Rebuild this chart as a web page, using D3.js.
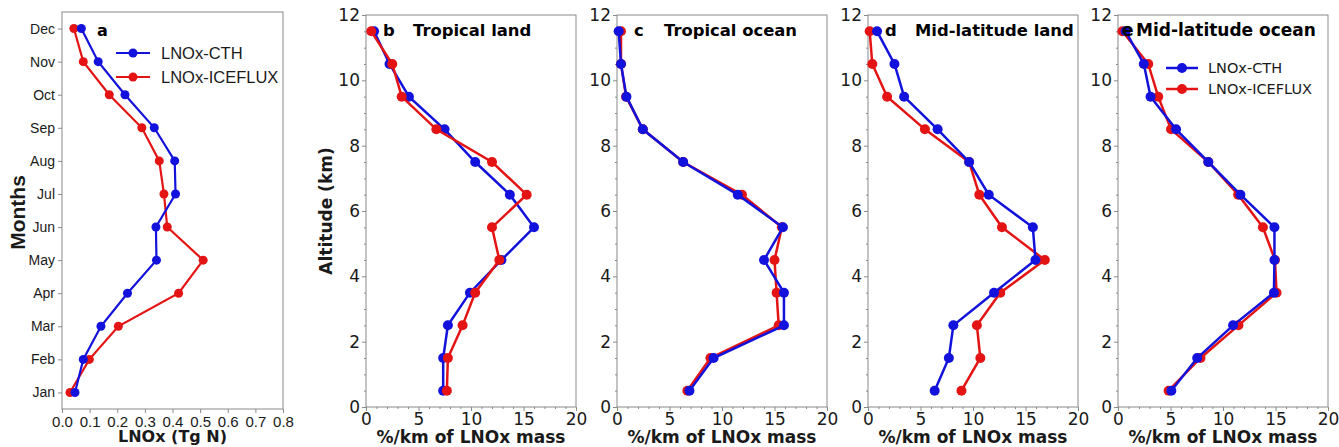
<!DOCTYPE html>
<html><head><meta charset="utf-8">
<script src="https://cdn.jsdelivr.net/npm/d3@7"></script>
<style>body{margin:0;background:#fff}svg{display:block}</style>
</head><body>
<svg id="c" width="1339" height="447"></svg>
<script>
// ---- data ----
const months = ["Jan","Feb","Mar","Apr","May","Jun","Jul","Aug","Sep","Oct","Nov","Dec"];
const monthlyCTH     = [0.047,0.077,0.141,0.237,0.342,0.340,0.411,0.408,0.334,0.228,0.131,0.070];
const monthlyICEFLUX = [0.029,0.099,0.204,0.422,0.511,0.381,0.369,0.352,0.289,0.171,0.077,0.043];
const lnoxTicks = [0,0.1,0.2,0.3,0.4,0.5,0.6,0.7,0.8];

const altitudes = [0.5,1.5,2.5,3.5,4.5,5.5,6.5,7.5,8.5,9.5,10.5,11.5];
const altTicks = [0,2,4,6,8,10,12];
const pctTicks = [0,5,10,15,20];

const tropLandCTH      = [7.35,7.35,7.8,9.9,12.9,16.0,13.7,10.4,7.48,4.09,2.24,0.77];
const tropLandICEFLUX  = [7.7,7.8,9.2,10.4,12.7,12.0,15.3,12.0,6.7,3.4,2.5,0.5];
const tropOceanCTH     = [6.9,9.2,15.9,15.9,14.0,15.8,11.5,6.3,2.46,0.9,0.38,0.16];
const tropOceanICEFLUX = [6.7,8.9,15.4,15.2,15.0,15.7,11.9,6.3,2.46,0.86,0.38,0.38];
const midLandCTH       = [6.35,7.7,8.13,12.0,15.95,15.7,11.5,9.63,6.63,3.44,2.52,0.86];
const midLandICEFLUX   = [8.9,10.7,10.37,12.6,16.84,12.76,10.6,9.63,5.42,1.82,0.41,0.16];
const midOceanCTH      = [5.08,7.54,10.96,14.85,14.9,14.9,11.66,8.6,5.53,3.1,2.46,0.73];
const midOceanICEFLUX  = [4.82,7.86,11.47,15.1,14.95,13.8,11.44,8.6,5.05,3.83,2.88,0.42];

const seriesNames = ["LNOx-CTH","LNOx-ICEFLUX"];
const panelLetters = ["b","c","d","e"];
const panelTitles = ["Tropical land","Tropical ocean","Mid-latitude land","Mid-latitude ocean"];

// ---- style ----
const BLUE = "#1212dc", RED = "#e41414", FRAME = "#8a8a8a", TXT = "#1a1a1a";
const svg = d3.select("#c");

function frame(g, x0, x1, y0, y1) {
  g.append("rect").attr("x", x0).attr("y", y0).attr("width", x1 - x0).attr("height", y1 - y0)
    .attr("fill", "none").attr("stroke", FRAME).attr("stroke-width", 1);
}
function styleAxis(sel, font, size) {
  sel.select(".domain").remove();
  sel.selectAll(".tick line").attr("stroke", FRAME);
  sel.selectAll(".tick text").attr("fill", TXT).style("font-family", font).style("font-size", size + "px");
}

// ---- panel a ----
(function () {
  const L = 62, R = 283, T = 12, B = 409;
  const x = d3.scaleLinear().domain([0, 0.8]).range([L, R]);
  const y = d3.scalePoint().domain(months).range([B, T]).padding(0.5);
  const g = svg.append("g");
  const font = "'Liberation Sans', Arial, sans-serif";
  g.append("g").attr("transform", `translate(0,${B})`)
    .call(d3.axisBottom(x).tickValues(lnoxTicks).tickFormat(d3.format(".1f")).tickSize(4).tickPadding(3))
    .call(s => styleAxis(s, font, 15));
  g.append("g").attr("transform", `translate(${L},0)`)
    .call(d3.axisLeft(y).tickSize(4).tickPadding(3))
    .call(s => styleAxis(s, font, 14));
  frame(g, L, R, T, B);
  const line = d3.line().x(d => x(d[0])).y(d => y(d[1]));
  [[monthlyICEFLUX, RED], [monthlyCTH, BLUE]].forEach(([vals, col]) => {
    const pts = vals.map((v, i) => [v, months[i]]);
    g.append("path").attr("d", line(pts)).attr("fill", "none").attr("stroke", col).attr("stroke-width", 2.2);
    g.selectAll(null).data(pts).enter().append("circle")
      .attr("cx", d => x(d[0])).attr("cy", d => y(d[1])).attr("r", 4.5).attr("fill", col);
  });
  g.append("text").attr("x", 97).attr("y", 36).text("a")
    .style("font-family", "'DejaVu Sans', sans-serif").style("font-weight", "bold").style("font-size", "16px");
  // legend
  [[BLUE, 53], [RED, 77]].forEach(([col, yy], i) => {
    g.append("line").attr("x1", 116).attr("x2", 150).attr("y1", yy).attr("y2", yy).attr("stroke", col).attr("stroke-width", 2.2);
    g.append("circle").attr("cx", 133).attr("cy", yy).attr("r", 4.5).attr("fill", col);
    g.append("text").attr("x", 161).attr("y", yy).attr("dy", "0.36em").text(seriesNames[i])
      .attr("fill", TXT).style("font-family", font).style("font-size", "16.5px");
  });
  g.append("text").attr("x", (L + R) / 2).attr("y", 442).attr("text-anchor", "middle").text("LNOx (Tg N)")
    .attr("fill", TXT).style("font-family", "'DejaVu Sans', sans-serif").style("font-weight", "bold").style("font-size", "16px");
  g.append("text").attr("transform", `translate(25,${(T + B) / 2 + 2}) rotate(-90)`).attr("text-anchor", "middle").text("Months")
    .attr("fill", TXT).style("font-family", font).style("font-weight", "bold").style("font-size", "21px");
})();

// ---- panels b-e ----
const profiles = [
  [tropLandCTH, tropLandICEFLUX, true],
  [tropOceanCTH, tropOceanICEFLUX, false],
  [midLandCTH, midLandICEFLUX, false],
  [midOceanCTH, midOceanICEFLUX, false]
];
const lefts = [366, 617, 868, 1118];
const dfont = "'DejaVu Sans', sans-serif";
profiles.forEach(([cth, ice, redOnTop], p) => {
  const L = lefts[p], R = L + 210, T = 15, B = 407;
  const x = d3.scaleLinear().domain([0, 20]).range([L, R]);
  const y = d3.scaleLinear().domain([0, 12]).range([B, T]);
  const g = svg.append("g");
  // minor ticks
  g.append("g").attr("transform", `translate(0,${B})`)
    .call(d3.axisBottom(x).tickValues(d3.range(0, 21, 1).filter(v => v % 5)).tickSize(2).tickFormat(""))
    .call(s => styleAxis(s, dfont, 17));
  g.append("g").attr("transform", `translate(${L},0)`)
    .call(d3.axisLeft(y).tickValues(d3.range(0, 12.01, 0.5).filter(v => v % 2)).tickSize(2).tickFormat(""))
    .call(s => styleAxis(s, dfont, 17));
  g.append("g").attr("transform", `translate(0,${B})`)
    .call(d3.axisBottom(x).tickValues(pctTicks).tickSize(4).tickPadding(2))
    .call(s => styleAxis(s, dfont, 17));
  g.append("g").attr("transform", `translate(${L},0)`)
    .call(d3.axisLeft(y).tickValues(altTicks).tickSize(4).tickPadding(2))
    .call(s => styleAxis(s, dfont, 17));
  frame(g, L, R, T, B);
  const line = d3.line().x(d => x(d[0])).y(d => y(d[1]));
  const order = redOnTop ? [[cth, BLUE], [ice, RED]] : [[ice, RED], [cth, BLUE]];
  order.forEach(([vals, col]) => {
    const pts = vals.map((v, i) => [v, altitudes[i]]);
    g.append("path").attr("d", line(pts)).attr("fill", "none").attr("stroke", col).attr("stroke-width", 2.5);
    g.selectAll(null).data(pts).enter().append("circle")
      .attr("cx", d => x(d[0])).attr("cy", d => y(d[1])).attr("r", 5).attr("fill", col);
  });
  const last = p === 3;
  const letterX = last ? L + 4 : L + 17;
  const titleX = last ? L + 18 : L + 47;
  const tsize = last ? "17px" : "16.4px";
  g.append("text").attr("x", letterX).attr("y", 36).text(panelLetters[p]).attr("fill", "#000")
    .style("font-family", dfont).style("font-weight", "bold").style("font-size", tsize);
  g.append("text").attr("x", titleX).attr("y", 36).text(panelTitles[p]).attr("fill", "#000")
    .style("font-family", dfont).style("font-weight", "bold").style("font-size", tsize);
  g.append("text").attr("x", (L + R) / 2).attr("y", 443).attr("text-anchor", "middle").text("%/km of LNOx mass")
    .attr("fill", TXT).style("font-family", dfont).style("font-weight", "bold").style("font-size", "17px");
  if (p === 0) {
    g.append("text").attr("transform", `translate(332,${(T + B) / 2}) rotate(-90)`).attr("text-anchor", "middle")
      .text("Altitude (km)").attr("fill", TXT).style("font-family", dfont).style("font-weight", "bold").style("font-size", "17px");
  }
  if (last) {
    [[BLUE, 68], [RED, 89]].forEach(([col, yy], i) => {
      g.append("line").attr("x1", 1166).attr("x2", 1198).attr("y1", yy).attr("y2", yy).attr("stroke", col).attr("stroke-width", 2.5);
      g.append("circle").attr("cx", 1182).attr("cy", yy).attr("r", 5).attr("fill", col);
      g.append("text").attr("x", 1208).attr("y", yy).attr("dy", "0.36em").text(seriesNames[i])
        .attr("fill", TXT).style("font-family", dfont).style("font-size", "14.5px");
    });
  }
});
</script>
</body></html>
